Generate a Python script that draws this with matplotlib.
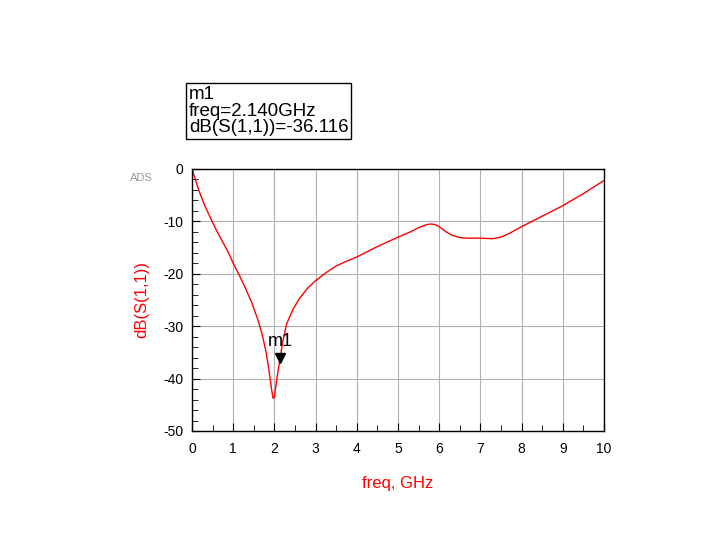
import matplotlib
matplotlib.use("Agg")
import matplotlib.pyplot as plt
import numpy as np
from matplotlib.ticker import MultipleLocator

freq = [0, 0.1, 0.2, 0.3, 0.4, 0.5, 0.6, 0.75, 0.9, 1.0, 1.15, 1.3, 1.45, 1.6, 1.7, 1.8, 1.87, 1.93, 1.97, 2.0, 2.05, 2.1, 2.14, 2.2, 2.3, 2.45, 2.6, 2.8, 3.0, 3.25, 3.5, 3.75, 4.0, 4.5, 5.0, 5.3, 5.5, 5.7, 5.8, 5.9, 6.0, 6.15, 6.3, 6.5, 6.7, 7.0, 7.3, 7.5, 7.7, 8.0, 8.5, 9.0, 9.5, 10.0]
s11 = [0, -2.5, -4.8, -6.8, -8.5, -10.2, -11.8, -14, -16.2, -18, -20.3, -22.8, -25.5, -28.8, -31.5, -35, -38.5, -42, -43.8, -43.5, -40.5, -38, -36.116, -33, -29.5, -26.8, -24.8, -22.8, -21.3, -19.8, -18.5, -17.6, -16.8, -14.8, -13, -12, -11.2, -10.6, -10.5, -10.6, -11, -11.9, -12.6, -13.1, -13.2, -13.2, -13.3, -13, -12.3, -11, -9, -7, -4.7, -2.2]
m_f, m_v = 2.14, -36.116

plt.rcParams['font.family'] = ['Liberation Sans', 'DejaVu Sans']
plt.rcParams['axes.unicode_minus'] = False
fig = plt.figure(figsize=(7.22, 5.55), dpi=100)
ax = fig.add_axes([192/722, 1-431/555, 412/722, 262/555])
ax.plot(freq, s11, color='red', lw=1)
ax.set_xlim(0, 10); ax.set_ylim(-50, 0)
ax.xaxis.set_major_locator(MultipleLocator(1)); ax.xaxis.set_minor_locator(MultipleLocator(0.5))
ax.yaxis.set_major_locator(MultipleLocator(10)); ax.yaxis.set_minor_locator(MultipleLocator(2))
ax.grid(True, which='major', color='#b0b0b0', lw=0.8)
ax.tick_params(which='both', direction='in', labelsize=10, colors='black', top=False, right=False)
ax.tick_params(which='major', length=6, pad=8); ax.tick_params(which='minor', length=4)
ax.tick_params(axis='y', pad=6)
for s in ax.spines.values():
    s.set_linewidth(1)
ax.set_xlabel('freq, GHz', color='red', fontsize=12, labelpad=14)
ax.set_ylabel('dB(S(1,1))', color='red', fontsize=12, labelpad=10)
ax.plot([m_f], [m_v], marker='v', color='black', ms=7)
ax.text(m_f, m_v + 1.5, 'm1', ha='center', va='bottom', fontsize=13)
fig.text(130/722, 1-178/555, 'ADS', color='#999999', fontsize=8, ha='left', va='center')
fig.text(189/722, 1-111/555, 'm1\nfreq=2.140GHz\ndB(S(1,1))=-36.116', fontsize=13.5, va='center', ha='left', linespacing=0.95,
         bbox=dict(boxstyle='square,pad=0.15', fc='white', ec='black', lw=1))
fig.savefig('out.png', dpi=100)
